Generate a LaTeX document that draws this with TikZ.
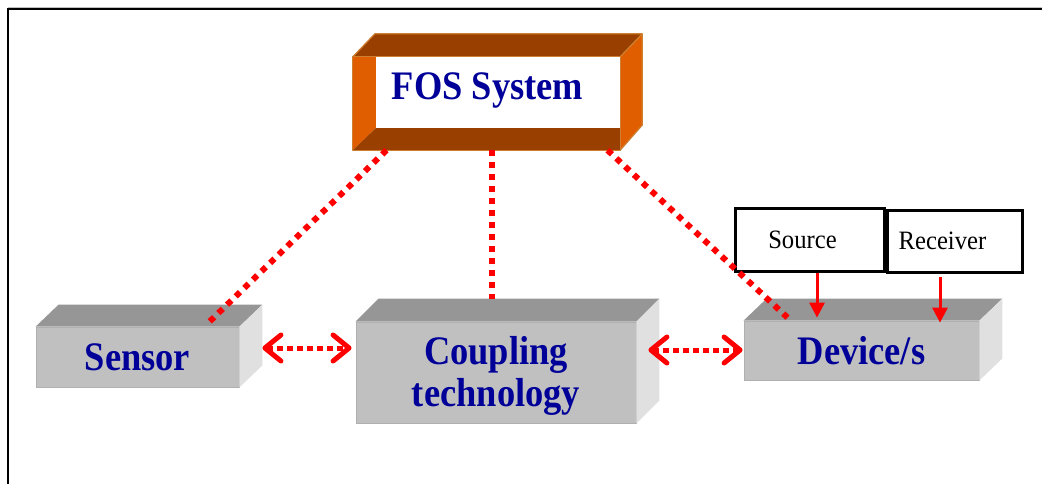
\documentclass[tikz,border=0pt]{standalone}
\usepackage{fontspec}
\setmainfont{Liberation Serif}
\newfontfamily\labelfont[FakeStretch=0.9]{Liberation Serif}
\newfontfamily\smallfont[FakeStretch=0.93]{Liberation Serif}
\usetikzlibrary{arrows.meta,calc}
\definecolor{lblue}{RGB}{0,0,153}
\definecolor{frontgray}{RGB}{192,192,192}
\definecolor{topgray}{RGB}{150,150,150}
\definecolor{sidegray}{RGB}{224,224,224}
\definecolor{edgegray}{RGB}{176,176,176}
\definecolor{fosbrown}{RGB}{153,64,0}
\definecolor{fosorange}{RGB}{224,94,0}
\definecolor{fosedge}{RGB}{206,128,50}
\definecolor{lred}{RGB}{255,0,0}
\begin{document}
\begin{tikzpicture}[x=1pt,y=-1pt,
  front/.style={fill=frontgray, draw=edgegray, line width=0.8pt, inner sep=0pt, text=lblue,
    font=\labelfont\bfseries\fontsize{40.5}{42.4}\selectfont},
  boxlabel/.style={inner sep=0pt, text=lblue, font=\labelfont\bfseries\fontsize{40.5}{42.4}\selectfont},
  smallbox/.style={draw=black, line width=3pt, fill=white, inner sep=0pt,
    font=\smallfont\fontsize{26.5}{28}\selectfont},
  dotline/.style={draw=lred, line width=6pt, dash pattern=on 6pt off 6pt},
  dblarrow/.style={draw=lred, line width=5pt, dash pattern=on 5.5pt off 4.5pt,
    {Straight Barb[length=16pt,width=26pt,line width=5pt,round]}-{Straight Barb[length=16pt,width=26pt,line width=5pt,round]}},
  feed/.style={draw=lred, line width=3pt, -{Triangle[length=15pt,width=15pt]}}
]
\useasboundingbox (0,0) rectangle (1042,484);
% outer frame
\draw[black!25, line width=1pt] (8,7.3) -- (1042,7.3);
\draw[black, line width=2.5pt] (8,484) -- (8,9.2) -- (1042,9.2);

% FOS system frame box
\node[inner sep=0pt, minimum width=267pt, minimum height=93pt] (fos) at (486.5,103.5) {};
\fill[fosbrown] (fos.north west) -- ++(22,-23) -- ([shift={(22,-23)}]fos.north east) -- (fos.north east) -- cycle;
\fill[fosorange] (fos.north east) -- ++(22,-23) -- ([shift={(22,-25)}]fos.south east) -- (fos.south east) -- cycle;
\fill[fosorange] (fos.north west) -- ++(23,0) -- ([shift={(23,-22)}]fos.south west) -- (fos.south west) -- cycle;
\fill[fosbrown] (fos.south west) -- ([shift={(23,-22)}]fos.south west) -- ([shift={(0,-22)}]fos.south east) -- (fos.south east) -- cycle;
\draw[fosedge, line width=1.2pt, line join=round] (fos.north west) rectangle (fos.south east);
\draw[fosedge, line width=1.2pt, line join=round] (fos.north west) -- ++(22,-23) -- ([shift={(22,-23)}]fos.north east) -- ([shift={(22,-25)}]fos.south east) -- (fos.south east);
\draw[fosedge, line width=1.2pt] ([shift={(22,-23)}]fos.north east) -- (fos.north east);
\node[boxlabel, anchor=base] (fostxt) at (487.5,100) {FOS System};

% gray 3D boxes
\node[front, minimum width=203pt, minimum height=60pt] (sensor) at (137.5,357) {Sensor};
\node[front, minimum width=280pt, minimum height=101pt] (coupling) at (496,372.5) {};
\node[front, minimum width=235pt, minimum height=59pt] (device) at (861.5,350.5) {Device/s};
\foreach \n/\dx/\dy/\dz in {sensor/23/22/22, coupling/23/23/23, device/23/22/22} {
  \fill[topgray] (\n.north west) -- ++(\dx,-\dy) -- ([shift={(\dx,-\dy)}]\n.north east) -- (\n.north east) -- cycle;
  \fill[sidegray] (\n.north east) -- ++(\dx,-\dy) -- ([shift={(\dx,-\dz)}]\n.south east) -- (\n.south east) -- cycle;
}
\node[boxlabel, align=center] (couplingtxt) at (496,376) {Coupling\\technology};

% source / receiver
\node[smallbox, minimum width=149pt, minimum height=63pt] (source) at (809.5,239.5) {\hspace*{-14pt}Source};
\node[smallbox, minimum width=135pt, minimum height=62pt] (receiver) at (954.5,241) {\hspace*{-24pt}Receiver};

% dotted links to FOS system
\draw[dotline] ([xshift=-100]fos.south) -- ([shift={(70,-3)}]sensor.north);
\draw[dotline] ([xshift=5.5]fos.south) -- ([shift={(-4,-23)}]coupling.north);
\draw[dotline] ([xshift=121]fos.south) -- ([shift={(-74,-3)}]device.north);

% double arrows
\draw[dblarrow] ([shift={(23,-9)}]sensor.east) -- ([shift={(-4,-24.5)}]coupling.west);
\draw[dblarrow] ([shift={(12,-22.5)}]coupling.east) -- ([shift={(-1,-0.5)}]device.west);

% feeds
\draw[feed] ([xshift=7.5]source.south) -- ([shift={(-44.5,-3)}]device.north);
\draw[feed] ([shift={(-14.5,3)}]receiver.south) -- ([shift={(78.5,2)}]device.north);
\end{tikzpicture}
\end{document}
